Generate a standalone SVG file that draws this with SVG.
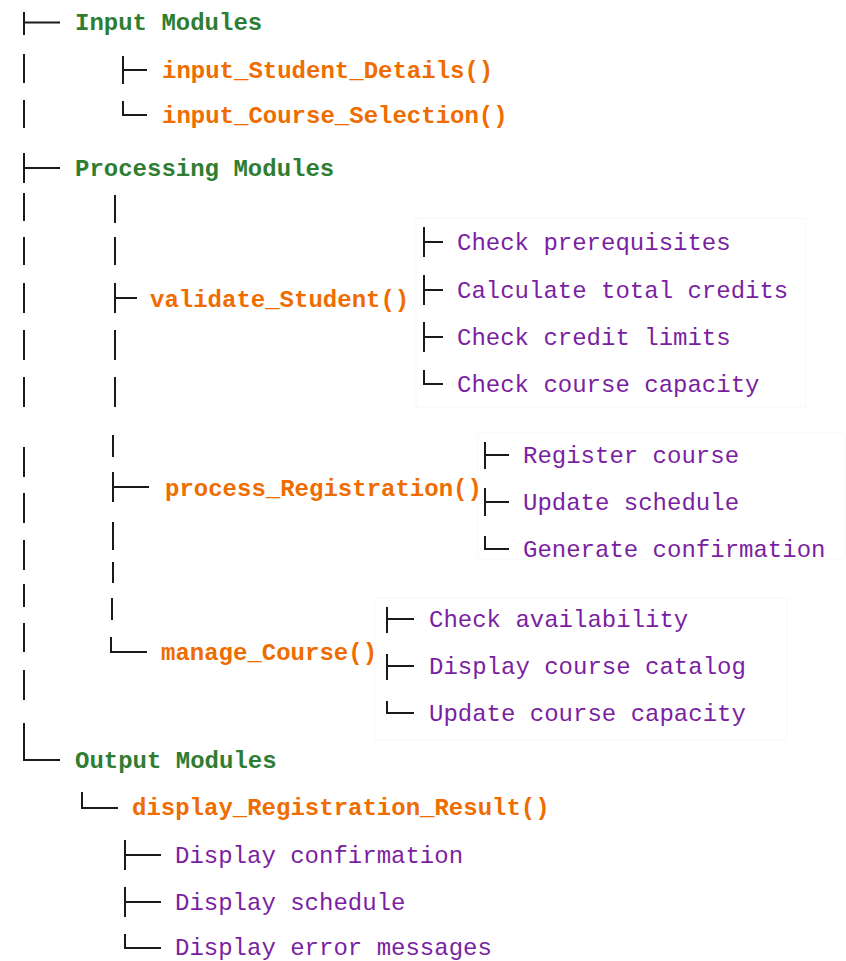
<svg xmlns="http://www.w3.org/2000/svg" width="846" height="961" viewBox="0 0 846 961">
<style>
text{font-family:"Liberation Mono","DejaVu Sans Mono",monospace;font-size:24px}
.g{fill:#2e7d32;font-weight:bold}
.o{fill:#ef6c00;font-weight:bold}
.p{fill:#7b1fa2}
.ln{stroke:#1a1a1a;stroke-width:2;fill:none}
.cell{fill:none;stroke:#f7f7f7;stroke-width:1}
</style>
<rect width="846" height="961" fill="#ffffff"/>
<g id="cells">
<rect class="cell" x="416" y="218" width="390" height="189"/>
<rect class="cell" x="478" y="433" width="367" height="126"/>
<rect class="cell" x="375" y="598" width="412" height="142"/>
</g>
<g id="connectors" class="ln">
<path d="M24 12V35M24 22.5H60"/>
<path d="M24 54V83M24 100V128"/>
<path d="M24 153V183M24 168H60"/>
<path d="M24 193V221M24 237V265M24 283V313M24 330V360M24 377V407"/>
<path d="M24 447V477M24 493V523M24 540V570M24 584V607M24 623V652M24 670V700"/>
<path d="M24 723V760H60"/>
<path d="M123 56V84M123 70H147"/>
<path d="M123 101V115H147"/>
<path d="M115 195V223M115 237V265M115 330V360M115 377V407"/>
<path d="M115 283V313M115 298H137"/>
<path d="M113 435V457M113 522V550M113 562V583M112 598V620"/>
<path d="M113 472V502M113 487H149"/>
<path d="M111 637V652H147"/>
<path d="M424 227V257M424 242H443"/>
<path d="M424 275V305M424 290H443"/>
<path d="M424 322V352M424 337H443"/>
<path d="M424 370V384H443"/>
<path d="M485 442V469M485 455H509"/>
<path d="M485 488V516M485 502H509"/>
<path d="M485 536V549H509"/>
<path d="M387 607V633M387 619H414"/>
<path d="M387 654V680M387 666H414"/>
<path d="M387 701V713H414"/>
<path d="M82 792V808H118"/>
<path d="M125 840V870M125 855H161"/>
<path d="M125 887V917M125 902H161"/>
<path d="M125 934V948H161"/>
</g>
<g id="n-input"><text class="g" x="75" y="30">Input Modules</text></g>
<g id="n-input-student"><text class="o" x="162" y="78">input_Student_Details()</text></g>
<g id="n-input-course"><text class="o" x="162" y="123">input_Course_Selection()</text></g>
<g id="n-processing"><text class="g" x="75" y="176">Processing Modules</text></g>
<g id="n-validate"><text class="o" x="150" y="307">validate_Student()</text></g>
<g id="n-v1"><text class="p" x="457" y="250">Check prerequisites</text></g>
<g id="n-v2"><text class="p" x="457" y="298">Calculate total credits</text></g>
<g id="n-v3"><text class="p" x="457" y="345">Check credit limits</text></g>
<g id="n-v4"><text class="p" x="457" y="392">Check course capacity</text></g>
<g id="n-process"><text class="o" x="165" y="496">process_Registration()</text></g>
<g id="n-p1"><text class="p" x="523" y="463">Register course</text></g>
<g id="n-p2"><text class="p" x="523" y="510">Update schedule</text></g>
<g id="n-p3"><text class="p" x="523" y="557">Generate confirmation</text></g>
<g id="n-manage"><text class="o" x="161" y="660">manage_Course()</text></g>
<g id="n-m1"><text class="p" x="429" y="627">Check availability</text></g>
<g id="n-m2"><text class="p" x="429" y="674">Display course catalog</text></g>
<g id="n-m3"><text class="p" x="429" y="721">Update course capacity</text></g>
<g id="n-output"><text class="g" x="75" y="768">Output Modules</text></g>
<g id="n-display"><text class="o" x="132" y="815">display_Registration_Result()</text></g>
<g id="n-d1"><text class="p" x="175" y="863">Display confirmation</text></g>
<g id="n-d2"><text class="p" x="175" y="910">Display schedule</text></g>
<g id="n-d3"><text class="p" x="175" y="955">Display error messages</text></g>
</svg>
